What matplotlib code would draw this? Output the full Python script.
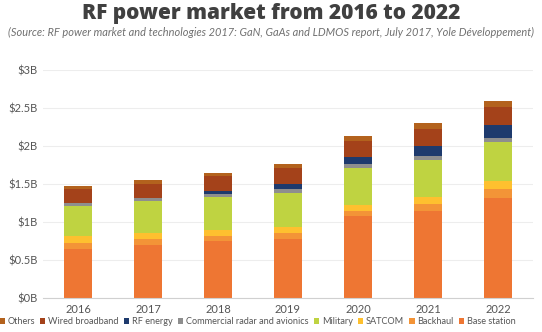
import numpy as np
import matplotlib.pyplot as plt
from matplotlib.ticker import FuncFormatter

years = ["2016", "2017", "2018", "2019", "2020", "2021", "2022"]

# segment values in $B, bottom to top
base_station = [0.64, 0.70, 0.75, 0.77, 1.08, 1.15, 1.31]
backhaul = [0.09, 0.07, 0.06, 0.08, 0.07, 0.09, 0.13]
satcom = [0.08, 0.08, 0.085, 0.08, 0.08, 0.09, 0.095]
military = [0.40, 0.42, 0.44, 0.455, 0.48, 0.49, 0.515]
radar = [0.035, 0.04, 0.04, 0.045, 0.05, 0.055, 0.06]
rf_energy = [0.005, 0.005, 0.03, 0.075, 0.09, 0.125, 0.165]
wired = [0.18, 0.19, 0.195, 0.20, 0.21, 0.225, 0.235]
others = [0.04, 0.045, 0.045, 0.06, 0.065, 0.075, 0.08]

series = [
    ("Base station", base_station, "#EE7633"),
    ("Backhaul", backhaul, "#F39437"),
    ("SATCOM", satcom, "#FEC02F"),
    ("Military", military, "#BFD341"),
    ("Commercial radar and avionics", radar, "#8E8E8E"),
    ("RF energy", rf_energy, "#1E3A6D"),
    ("Wired broadband", wired, "#A4421A"),
    ("Others", others, "#B3621D"),
]

plt.rcParams['font.family'] = ['Lato', 'DejaVu Sans']

fig = plt.figure(figsize=(5.42, 3.32), dpi=100)
ax = fig.add_axes([43 / 542, 1 - 298 / 332, 490 / 542, 228 / 332])

x = np.arange(len(years))
bottom = np.zeros(len(years))
handles = []
for name, vals, color in series:
    b = ax.bar(x, vals, 0.4, bottom=bottom, color=color, label=name, zorder=2)
    bottom += np.array(vals)
    handles.append(b)

ax.set_xlim(-0.5, len(years) - 0.5)
ax.set_ylim(0, 3)
ax.set_yticks(np.arange(0, 3.01, 0.5))
ax.yaxis.set_major_formatter(FuncFormatter(lambda v, p: "$%gB" % v))
ax.set_xticks(x)
ax.set_xticklabels(years)
ax.grid(axis='y', color='#EDEDED', linewidth=0.8, zorder=0)
for s in ['top', 'right', 'left']:
    ax.spines[s].set_visible(False)
ax.spines['bottom'].set_color('#D0D0D0')
ax.tick_params(axis='both', length=0, labelsize=8, colors='#555555')
ax.tick_params(axis='y', pad=4)
ax.tick_params(axis='x', pad=4)

fig.text(0.5, 1 - 14 / 332, "RF power market from 2016 to 2022",
         ha='center', va='center', fontsize=15, fontweight='heavy',
         family=['Open Sans', 'DejaVu Sans'], color='#404040')
fig.text(0.5, 1 - 32 / 332,
         "(Source: RF power market and technologies 2017: GaN, GaAs and LDMOS report, July 2017, Yole Développement)",
         ha='center', va='center', fontsize=7.9, style='italic', color='#707070')

leg = fig.legend(handles[::-1], [s[0] for s in series][::-1],
                 loc='center', bbox_to_anchor=(0.475, 1 - 322 / 332), ncol=8,
                 frameon=False, fontsize=6.6, handlelength=0.6, handleheight=0.6,
                 handletextpad=0.3, columnspacing=0.55, labelcolor='#555555',
                 borderpad=0, borderaxespad=0)

fig.savefig("out.png", dpi=100)
